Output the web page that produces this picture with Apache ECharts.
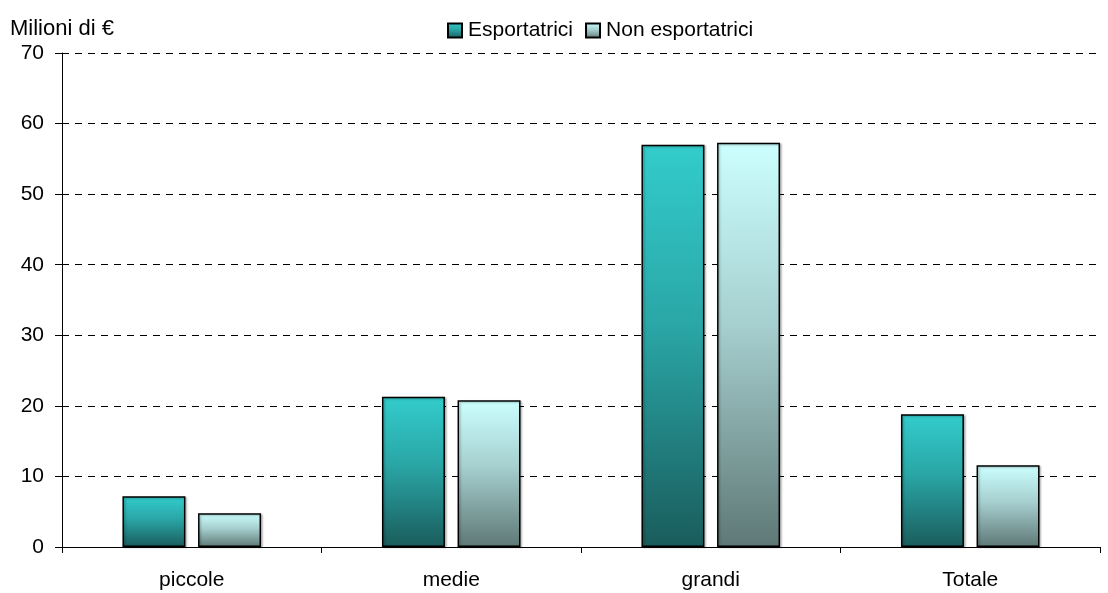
<!DOCTYPE html>
<html>
<head>
<meta charset="utf-8">
<script src="https://cdn.jsdelivr.net/npm/echarts@6/dist/echarts.min.js"></script>
<style>
  html, body { margin: 0; padding: 0; background: #fff; }
  #chart { width: 1108px; height: 593px; }
</style>
</head>
<body>
<div id="chart"></div>
<script>
// Categories and values (milioni di euro)
const categories = ['piccole', 'medie', 'grandi', 'Totale'];
const esportatrici = [7.2, 21.3, 57.0, 18.8];
const nonEsportatrici = [4.8, 20.8, 57.3, 11.6];
const seriesNames = ['Esportatrici', 'Non esportatrici'];
const yTicks = { min: 0, max: 70, interval: 10 };

const FONT = 'Liberation Sans, Arial, sans-serif';
const FS = 21;

const gradExp = new echarts.graphic.LinearGradient(0, 0, 0, 1, [
  { offset: 0, color: '#33cccc' },
  { offset: 0.45, color: '#2aa6a6' },
  { offset: 1, color: '#1a5c5c' }
]);
const gradNon = new echarts.graphic.LinearGradient(0, 0, 0, 1, [
  { offset: 0, color: '#ccffff' },
  { offset: 0.45, color: '#a6cfcf' },
  { offset: 1, color: '#5e7876' }
]);

const barStyle = (grad) => ({
  color: grad,
  borderColor: '#000',
  borderWidth: 1.5,
  shadowColor: 'rgba(0,0,0,0.25)',
  shadowBlur: 2,
  shadowOffsetX: 1.5,
  shadowOffsetY: 1
});

const chart = echarts.init(document.getElementById('chart'), null, { renderer: 'canvas' });
chart.setOption({
  animation: false,
  backgroundColor: '#fff',
  textStyle: { fontFamily: FONT },
  grid: { left: 62, right: 8, top: 53, bottom: 46, containLabel: false },
  legend: {
    left: 447,
    top: 20,
    padding: 0,
    itemWidth: 14,
    itemHeight: 14,
    itemGap: 12,
    icon: 'rect',
    textStyle: { fontFamily: FONT, fontSize: FS, color: '#000', padding: [0, 0, 0, 1] },
    data: seriesNames
  },
  graphic: [{
    type: 'text',
    left: 10,
    top: 18,
    style: { text: 'Milioni di €', font: '22px ' + FONT, fill: '#000' }
  }],
  xAxis: {
    type: 'category',
    data: categories,
    boundaryGap: true,
    axisLine: { lineStyle: { color: '#000', width: 1 } },
    axisTick: { show: true, length: 6, lineStyle: { color: '#000' } },
    axisLabel: { fontFamily: FONT, fontSize: FS, color: '#000', margin: 23 }
  },
  yAxis: {
    type: 'value',
    min: yTicks.min,
    max: yTicks.max,
    interval: yTicks.interval,
    axisLine: { show: true, lineStyle: { color: '#000', width: 1 } },
    axisTick: { show: true, length: 7, lineStyle: { color: '#000' } },
    axisLabel: { fontFamily: FONT, fontSize: FS, color: '#000', margin: 18 },
    splitLine: { show: true, lineStyle: { color: '#000', type: [7, 6], width: 1 } }
  },
  series: [
    {
      name: seriesNames[0],
      type: 'bar',
      data: esportatrici,
      barWidth: 63,
      barGap: '20%',
      itemStyle: barStyle(gradExp)
    },
    {
      name: seriesNames[1],
      type: 'bar',
      data: nonEsportatrici,
      barWidth: 63,
      itemStyle: barStyle(gradNon)
    }
  ]
});
</script>
</body>
</html>
